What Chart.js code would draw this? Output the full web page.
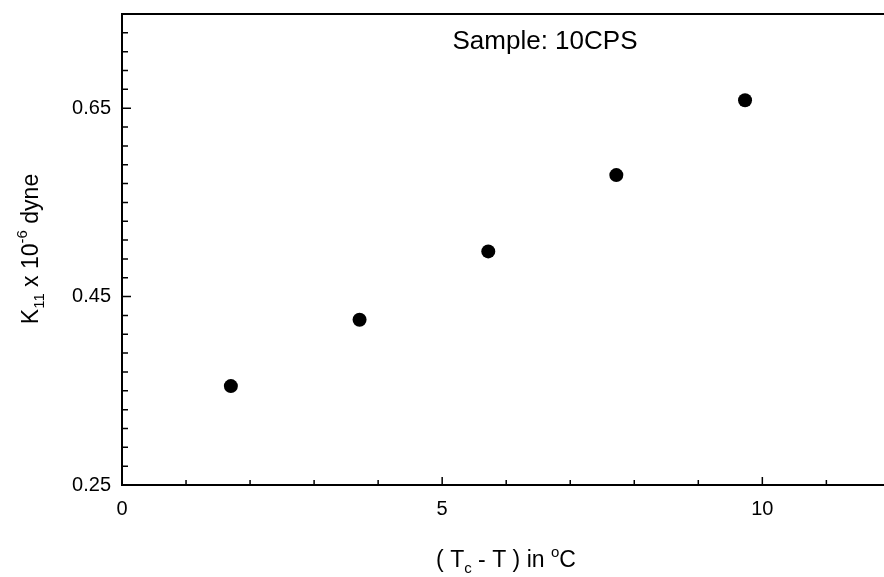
<!DOCTYPE html>
<html>
<head>
<meta charset="utf-8">
<script src="https://cdn.jsdelivr.net/npm/chart.js@4/dist/chart.umd.min.js"></script>
<style>
    body { margin: 0; background: #fff; }
    #wrap { width: 884px; height: 577px; position: relative; }
</style>
</head>
<body>
<div id="wrap"><canvas id="chart-k11"></canvas></div>
<script>
// Sample 10CPS: K11 vs (Tc - T)
const tempDiff = [1.70, 3.71, 5.72, 7.72, 9.73];
const k11 = [0.355, 0.4255, 0.498, 0.579, 0.6585];

const xTickLabels = [0, 5, 10];
const yTickLabels = [0.25, 0.45, 0.65];

const FONT = '"Liberation Sans", Arial, sans-serif';

// inward minor/major tick marks, top frame line, axis titles with sub/superscripts
const decorPlugin = {
    id: 'decor',
    afterDraw(chart) {
        const ctx = chart.ctx;
        const area = chart.chartArea;
        const xs = chart.scales.x;
        const ys = chart.scales.y;

        ctx.save();
        ctx.strokeStyle = '#000';
        ctx.lineWidth = 2;
        ctx.beginPath();
        ctx.moveTo(area.left - 1, area.top);
        ctx.lineTo(area.right, area.top);
        ctx.stroke();

        ctx.lineWidth = 1.5;
        ctx.beginPath();
        for (let v = 1; v <= xs.max; v++) {
            const px = xs.getPixelForValue(v);
            const len = v % 5 === 0 ? 8 : 5;
            ctx.moveTo(px, area.bottom);
            ctx.lineTo(px, area.bottom - len);
        }
        for (let i = 1; i < 25; i++) {
            const v = ys.min + i * 0.02;
            const py = ys.getPixelForValue(v);
            const major = i % 10 === 0;
            ctx.moveTo(area.left, py);
            ctx.lineTo(area.left + (major ? 9 : 6), py);
        }
        ctx.stroke();

        ctx.fillStyle = '#000';
        ctx.textBaseline = 'alphabetic';

        // title inside the plot
        ctx.font = '26px ' + FONT;
        ctx.textAlign = 'center';
        ctx.fillText('Sample: 10CPS', 545, 49);

        ctx.textAlign = 'left';
        drawRich(ctx, [
            ['( T', 23, 0], ['c', 15, 6], [' - T ) in ', 23, 0], ['o', 15, -10], ['C', 23, 0]
        ], 506, 567);

        ctx.translate(38, 249);
        ctx.rotate(-Math.PI / 2);
        drawRich(ctx, [
            ['K', 23, 0], ['11', 15, 6], [' x 10', 23, 0], ['-6', 15, -11], [' dyne', 23, 0]
        ], 0, 0);
        ctx.restore();
    }
};

function drawRich(ctx, parts, cx, baseline) {
    let total = 0;
    parts.forEach(p => {
        ctx.font = p[1] + 'px ' + FONT;
        total += ctx.measureText(p[0]).width;
    });
    let x = cx - total / 2;
    parts.forEach(p => {
        ctx.font = p[1] + 'px ' + FONT;
        ctx.fillText(p[0], x, baseline + p[2]);
        x += ctx.measureText(p[0]).width;
    });
}

new Chart(document.getElementById('chart-k11'), {
    type: 'scatter',
    data: {
        datasets: [{
            data: tempDiff.map((t, i) => ({ x: t, y: k11[i] })),
            backgroundColor: '#000',
            borderColor: '#000',
            borderWidth: 0,
            pointRadius: 7,
            pointHoverRadius: 7
        }]
    },
    options: {
        responsive: true,
        maintainAspectRatio: false,
        animation: false,
        layout: { autoPadding: false, padding: { top: 14, left: 0, right: 0, bottom: 0 } },
        plugins: {
            legend: { display: false },
            tooltip: { enabled: false }
        },
        scales: {
            x: {
                type: 'linear',
                min: 0,
                max: 11.9,
                afterBuildTicks: s => { s.ticks = xTickLabels.map(v => ({ value: v })); },
                afterFit: s => {
                    s.height = 92;
                    s.paddingLeft = 0;
                    s.paddingRight = 0;
                },
                grid: { display: false, drawTicks: false },
                border: { display: true, color: '#000', width: 2 },
                ticks: {
                    color: '#000',
                    padding: 12,
                    maxRotation: 0,
                    font: { family: FONT, size: 20 }
                }
            },
            y: {
                type: 'linear',
                min: 0.25,
                max: 0.75,
                afterBuildTicks: s => { s.ticks = yTickLabels.map(v => ({ value: v })); },
                afterFit: s => {
                    s.width = 122;
                    s.paddingTop = 0;
                    s.paddingBottom = 0;
                },
                grid: { display: false, drawTicks: false },
                border: { display: true, color: '#000', width: 2 },
                ticks: {
                    color: '#000',
                    padding: 11,
                    font: { family: FONT, size: 20 },
                    callback: v => v.toFixed(2)
                }
            }
        }
    },
    plugins: [decorPlugin]
});
</script>
</body>
</html>
